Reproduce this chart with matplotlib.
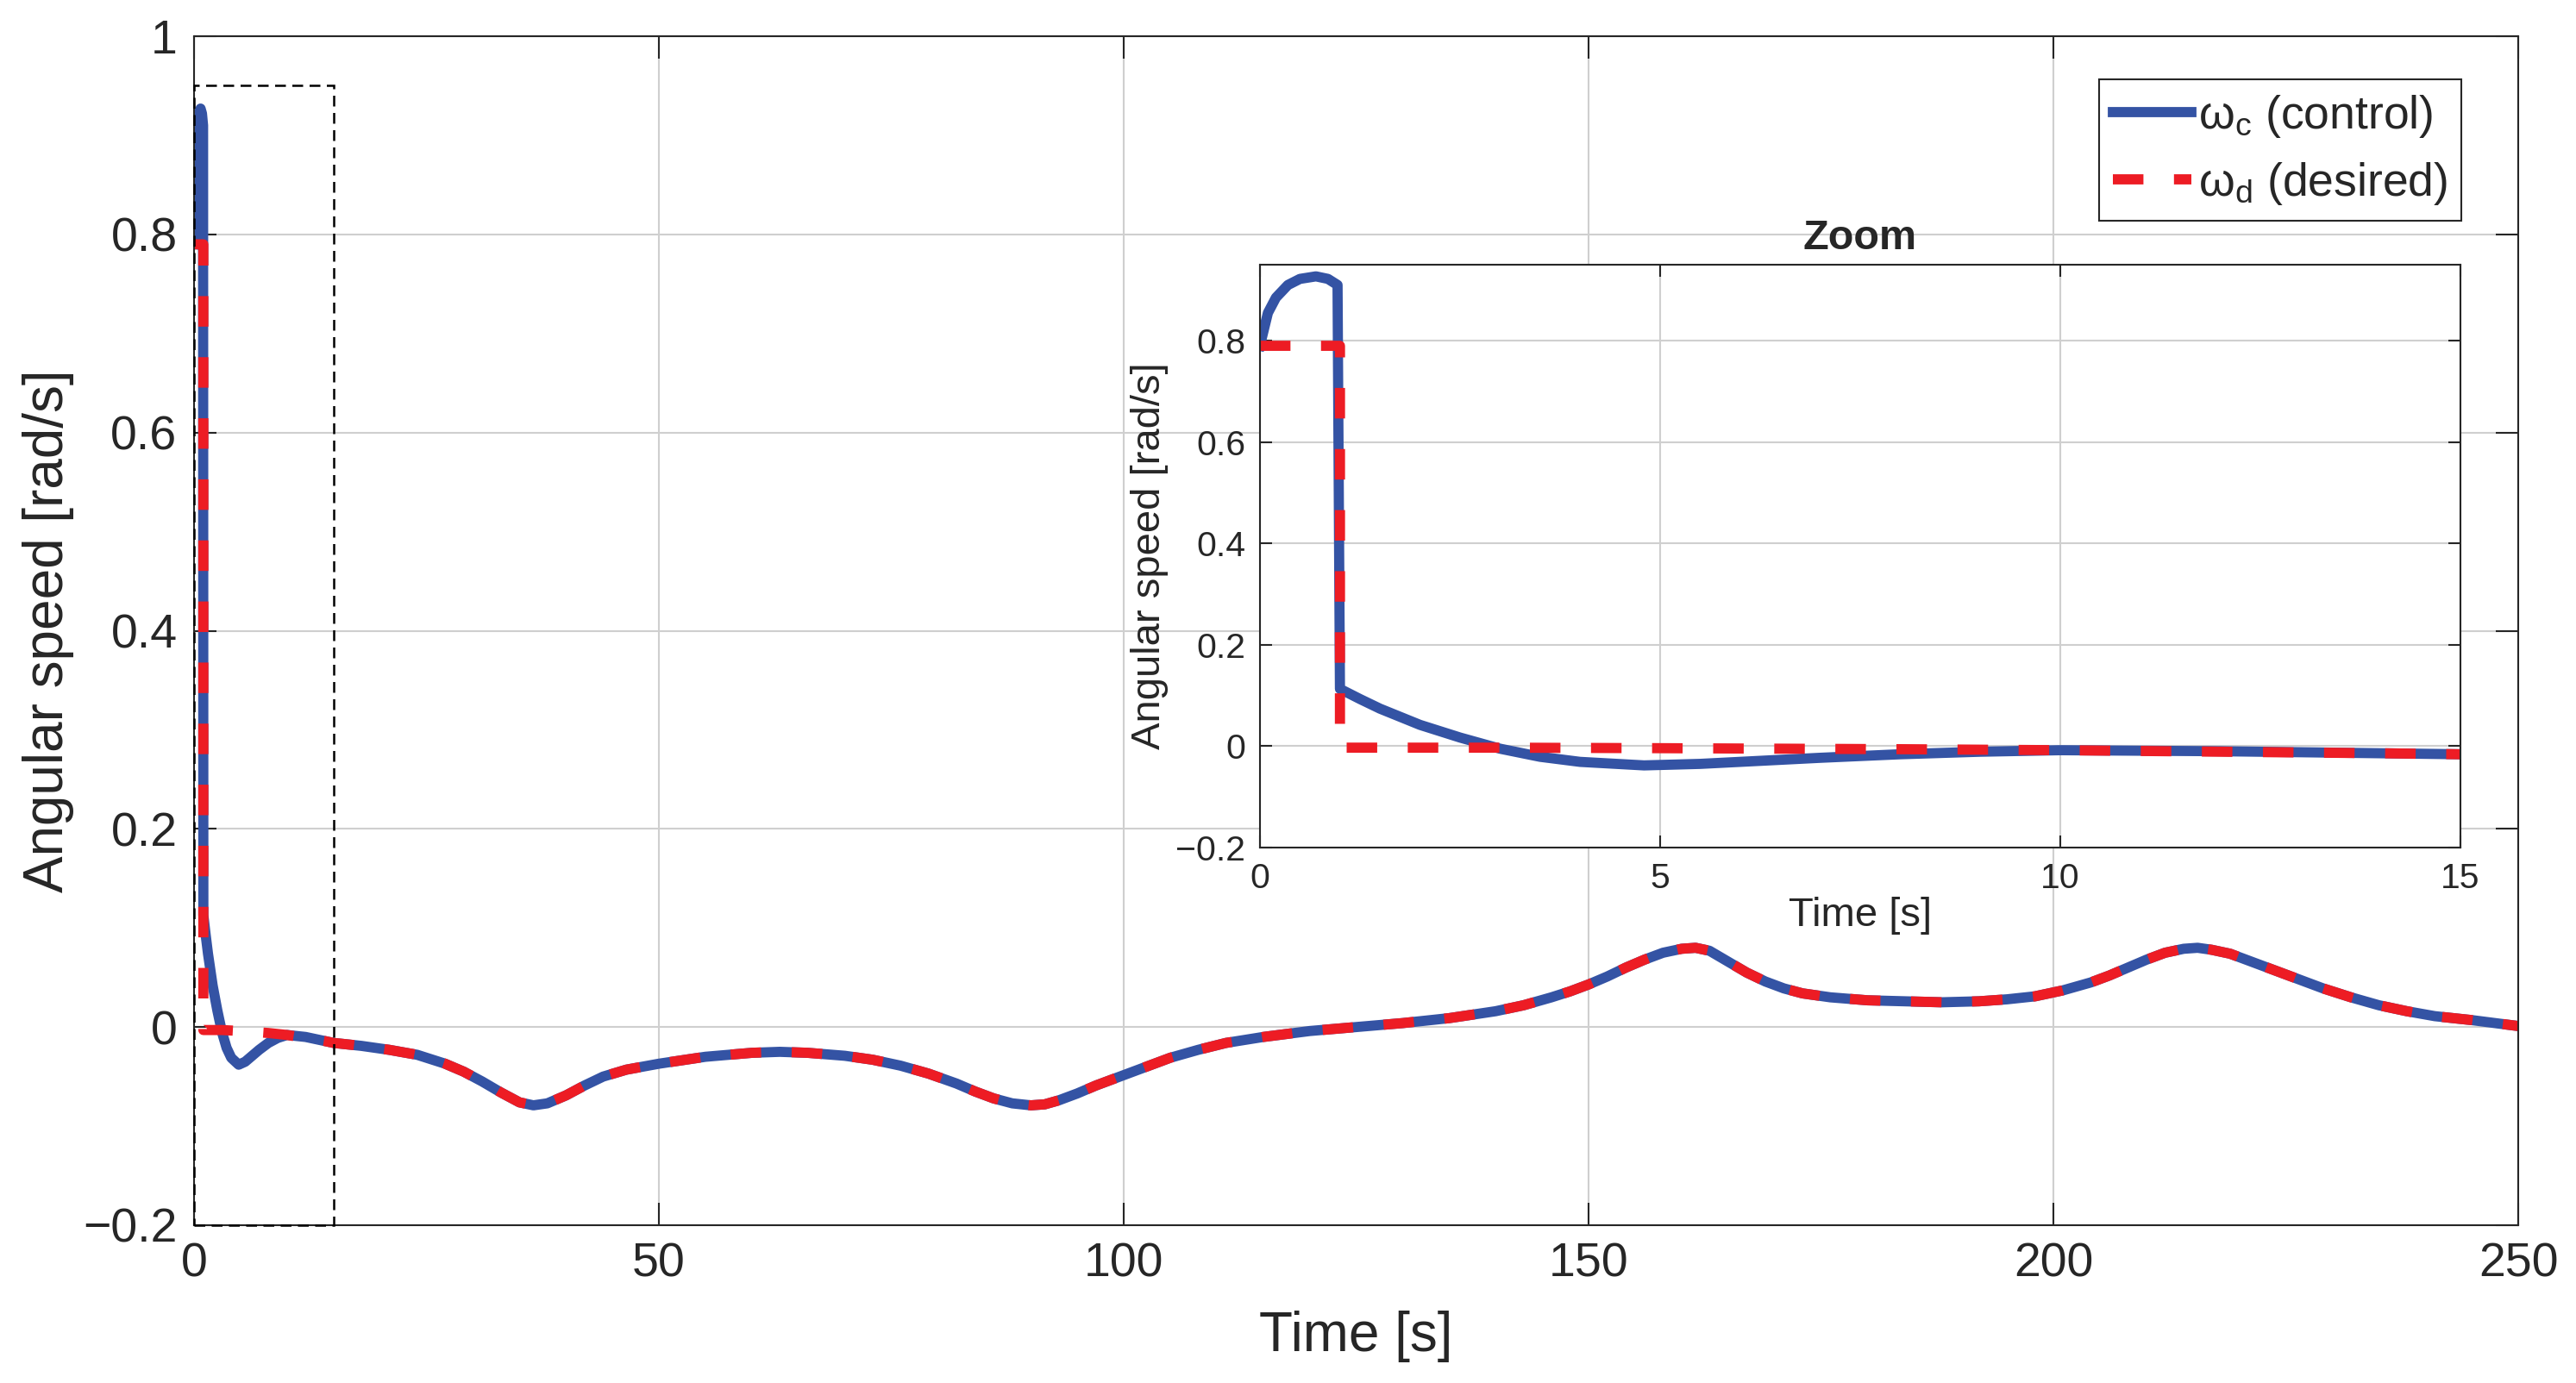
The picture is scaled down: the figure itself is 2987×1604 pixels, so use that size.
import numpy as np
import matplotlib
matplotlib.use('Agg')
import matplotlib.pyplot as plt
from matplotlib.patches import Rectangle
from matplotlib.ticker import FuncFormatter

plt.rcParams['font.family'] = ['Liberation Sans', 'DejaVu Sans']
plt.rcParams['mathtext.default'] = 'regular'

# control signal, transient part (first seconds)
t_ctrl_start = [0, 0.1, 0.2, 0.35, 0.5, 0.7, 0.85, 0.97, 1.0, 1.25, 1.5, 2, 2.5, 3,
                3.5, 4, 4.8, 5.5, 6, 7, 8, 9, 10, 11, 12, 13, 14]
w_ctrl_start = [0.79, 0.855, 0.885, 0.91, 0.922, 0.927, 0.922, 0.91, 0.113, 0.093,
                0.074, 0.042, 0.017, -0.005, -0.021, -0.031, -0.038, -0.035, -0.031,
                -0.023, -0.016, -0.011, -0.008, -0.009, -0.01, -0.012, -0.014]

# desired signal, step down at t = 1 s
t_des_start = [0, 1.0, 1.0, 3, 5, 8, 10, 12, 14]
w_des_start = [0.79, 0.79, -0.003, -0.003, -0.004, -0.006, -0.008, -0.011, -0.014]

# after ~15 s both signals are the same
t_tail = [15, 18, 21, 24, 27, 29, 31, 33, 35, 36.5, 38, 40, 42, 44, 46.5, 50, 55, 60,
          63, 66, 70, 73, 76, 79, 82, 84, 86, 88, 90, 91.5, 93, 95, 97, 99, 101, 103,
          105, 108, 111, 115, 120, 125, 130, 135, 140, 143, 146, 148, 150, 152, 154,
          156, 158, 160, 161.5, 163, 165, 167, 169, 171, 173, 176, 180, 184, 188, 192,
          195, 198, 201, 204, 206, 208, 210, 212, 214, 215.5, 217, 219, 221, 223, 225,
          227, 229, 232, 235, 238, 241, 245, 250]
w_tail = [-0.016, -0.019, -0.023, -0.028, -0.037, -0.045, -0.055, -0.066, -0.076,
          -0.079, -0.077, -0.069, -0.059, -0.05, -0.043, -0.037, -0.03, -0.026, -0.025,
          -0.026, -0.029, -0.033, -0.039, -0.047, -0.057, -0.065, -0.072, -0.077,
          -0.079, -0.078, -0.074, -0.067, -0.059, -0.052, -0.045, -0.038, -0.031,
          -0.023, -0.016, -0.01, -0.004, 0.0, 0.004, 0.009, 0.016, 0.022, 0.03, 0.036,
          0.043, 0.051, 0.06, 0.068, 0.075, 0.079, 0.08, 0.077, 0.066, 0.055, 0.046,
          0.039, 0.034, 0.03, 0.027, 0.026, 0.025, 0.026, 0.028, 0.031, 0.037, 0.045,
          0.052, 0.06, 0.068, 0.075, 0.079, 0.08, 0.078, 0.074, 0.067, 0.06, 0.053,
          0.046, 0.039, 0.03, 0.022, 0.016, 0.011, 0.007, 0.001]

t_ctrl = np.array(t_ctrl_start + t_tail)
w_ctrl = np.array(w_ctrl_start + w_tail)
t_des = np.array(t_des_start + t_tail)
w_des = np.array(w_des_start + w_tail)

labels = [r'ω$_c$ (control)', r'ω$_d$ (desired)']
zoom_t = [0, 15]
zoom_w = [-0.2, 0.95]

blue = '#3453a4'
red = '#ed1c24'
txt = '#262626'
gridc = '#cfcfcf'
lw = 8.5


def fmt(v, pos):
    s = '%g' % round(v, 2)
    return s.replace('-', '\u2212')


def style_axes(a, ticklen, fs, pad):
    a.grid(True, color=gridc, linewidth=1.5)
    a.set_axisbelow(True)
    a.tick_params(direction='in', top=True, right=True, length=ticklen, width=1.5,
                  labelsize=fs, colors=txt, pad=pad)
    for sp in a.spines.values():
        sp.set_linewidth(1.5)
        sp.set_color('#262626')
    a.yaxis.set_major_formatter(FuncFormatter(fmt))
    a.xaxis.set_major_formatter(FuncFormatter(fmt))


fig = plt.figure(figsize=(29.87, 16.04), dpi=100)
ax = fig.add_axes([0.07533, 0.11409, 0.9023, 0.8597])

l1, = ax.plot(t_ctrl, w_ctrl, color=blue, lw=lw, solid_joinstyle='round')
l2, = ax.plot(t_des, w_des, color=red, lw=lw, dashes=(3, 3))
ax.add_patch(Rectangle((zoom_t[0], zoom_w[0]), zoom_t[1] - zoom_t[0],
                       zoom_w[1] - zoom_w[0], fill=False, edgecolor='black',
                       linewidth=1.8, linestyle=(0, (5, 3)), zorder=5, clip_on=False))
ax.set_xlim(0, 250)
ax.set_ylim(-0.2, 1)
ax.set_xticks([0, 50, 100, 150, 200, 250])
ax.set_yticks([-0.2, 0, 0.2, 0.4, 0.6, 0.8, 1])
style_axes(ax, 19, 40, 14)
ax.set_xlabel('Time [s]', fontsize=46, color=txt, labelpad=20)
ax.set_ylabel('Angular speed [rad/s]', fontsize=46, color=txt, labelpad=7)

leg = ax.legend([l1, l2], labels, loc='upper right', bbox_to_anchor=(0.9755, 0.9637),
                borderaxespad=0, fontsize=38.5, handlelength=1.7, handletextpad=0.15,
                labelspacing=0.45, borderpad=0.3, fancybox=False, framealpha=1)
leg.get_frame().set_edgecolor('#262626')
leg.get_frame().set_linewidth(1.5)
for t in leg.get_texts():
    t.set_color(txt)

# inset zoom
axin = fig.add_axes([0.4891, 0.3872, 0.4660, 0.4214])
axin.plot(t_ctrl, w_ctrl, color=blue, lw=lw, solid_joinstyle='round')
axin.plot(t_des, w_des, color=red, lw=lw, dashes=(3, 3))
axin.set_xlim(zoom_t)
axin.set_ylim(zoom_w)
axin.set_xticks([0, 5, 10, 15])
axin.set_yticks([-0.2, 0, 0.2, 0.4, 0.6, 0.8])
style_axes(axin, 10, 29.5, 12)
axin.set_xlabel('Time [s]', fontsize=34, color=txt, labelpad=2)
axin.set_ylabel('Angular speed [rad/s]', fontsize=34, color=txt, labelpad=6)
axin.set_title('Zoom', fontsize=35, fontweight='bold', color=txt, pad=13)

fig.savefig('out.png', dpi=100)
